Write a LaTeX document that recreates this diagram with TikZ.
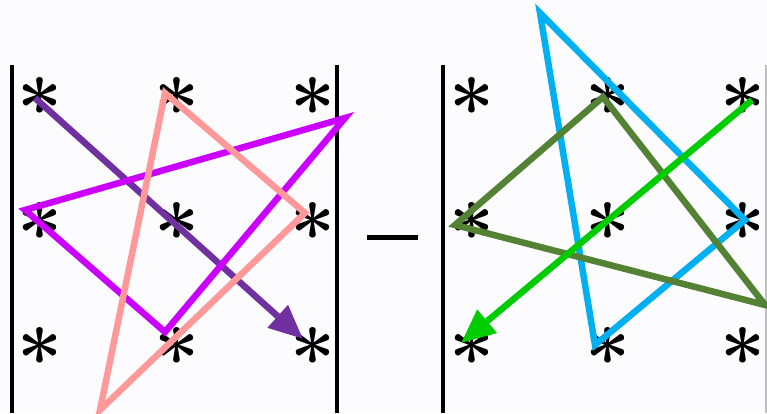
\documentclass[tikz,border=0pt]{standalone}
\usetikzlibrary{arrows.meta}
\begin{document}
\begin{tikzpicture}[x=1pt,y=-1pt,
  ast/.style={inner sep=0pt,anchor=base,font=\fontsize{80}{80}\selectfont\bfseries},
  bar/.style={line width=3.5pt,black},
  tri/.style={line width=6.5pt,line join=miter},
  arr/.style={line width=6.5pt,-{Triangle[length=34pt,width=29pt]}}]
\fill[white!98!blue!60!white] (0,0) rectangle (767,413);
\useasboundingbox (0,0) rectangle (767,413);
% bars
\coordinate (b1t) at (12,65); \coordinate (b1b) at (12,413);
\coordinate (b2t) at (337,65); \coordinate (b2b) at (337,413);
\coordinate (b3t) at (443,65); \coordinate (b3b) at (443,413);
\coordinate (b4t) at (766,65); \coordinate (b4b) at (766,413);
\draw[bar] (b1t) -- (b1b);
\draw[bar] (b2t) -- (b2b);
\draw[bar] (b3t) -- (b3b);
\draw[bar,gray!50,line width=2pt] (b4t) -- (b4b);
\coordinate (m1) at (367,237); \coordinate (m2) at (418,237);
\draw[line width=5pt] (m1) -- (m2);
% asterisks
\foreach \x/\n in {40/a,177/b,313/c,472/d,608/e,743/f}{
  \foreach \y/\r in {95/1,220/2,345/3}{
    \node[ast] (\n\r) at (\x,\y+42) {*};
  }
}
% left lines
\coordinate (p1) at (35,98); \coordinate (p2) at (303,339);
\draw[arr,color={rgb,255:red,112;green,48;blue,160}] (p1) -- (p2);
\coordinate (g1) at (25,210); \coordinate (g2) at (345,118); \coordinate (g3) at (165,332);
\draw[tri,color={rgb,255:red,204;green,0;blue,255}] (g1) -- (g2) -- (g3) -- cycle;
\coordinate (k1) at (165,93); \coordinate (k2) at (305,213); \coordinate (k3) at (100,410);
\draw[tri,color={rgb,255:red,255;green,153;blue,153}] (k1) -- (k2) -- (k3) -- cycle;
% right lines
\coordinate (c1) at (540,13); \coordinate (c2) at (745,220); \coordinate (c3) at (595,345);
\draw[tri,color={rgb,255:red,0;green,176;blue,240}] (c1) -- (c2) -- (c3) -- cycle;
\coordinate (o1) at (455,225); \coordinate (o2) at (603,97); \coordinate (o3) at (765,305);
\draw[tri,color={rgb,255:red,84;green,130;blue,53}] (o1) -- (o2) -- (o3) -- cycle;
\coordinate (q1) at (752,100); \coordinate (q2) at (461,343);
\draw[arr,color={rgb,255:red,0;green,204;blue,0}] (q1) -- (q2);
\end{tikzpicture}
\end{document}
